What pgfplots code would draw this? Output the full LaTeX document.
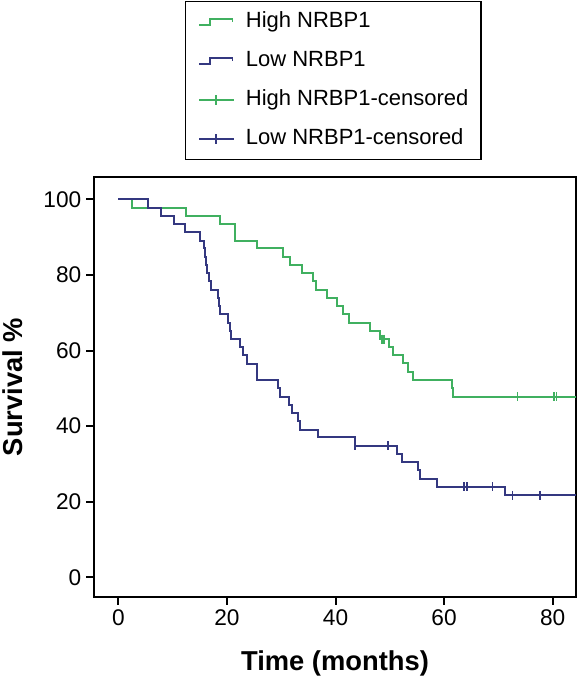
\documentclass[border=0pt]{standalone}
\usepackage{pgfplots}
\pgfplotsset{compat=1.18}
\usepackage{fontspec}
\setmainfont{Liberation Sans}
\definecolor{gcol}{RGB}{64,176,96}
\definecolor{bcol}{RGB}{52,56,128}
\begin{document}
\begin{tikzpicture}
\path[use as bounding box] (0,0) rectangle (435pt,508.5pt);
\begin{axis}[
 at={(70.5pt,60.75pt)}, anchor=south west,
 scale only axis, width=361.5pt, height=315pt,
 xmin=-4.5, xmax=84.3, ymin=-5.2, ymax=105.9,
 xtick={0,20,40,60,80}, ytick={0,20,40,60,80,100},
 tick pos=left, tick align=outside,
 major tick length=6pt,
 tick style={black, line width=1.5pt},
 axis line style={line width=2pt},
 ticklabel style={font=\fontsize{17}{20.4}\selectfont},
 /pgf/number format/assume math mode=true,
 xlabel={Time (months)}, ylabel={Survival \%},
 label style={font=\fontsize{20.5}{24}\selectfont\bfseries},
 xlabel style={at={(axis description cs:0.5,-0.157)}, anchor=center},
 ylabel style={at={(axis description cs:-0.168,0.5)}, anchor=center},
 legend style={at={(axis description cs:0.1888,1.419)}, anchor=north west,
   draw=black, line width=0.9pt, inner xsep=9.5pt, inner ysep=7.5pt,
   row sep=13.75pt, font=\fontsize{16.5}{19.8}\selectfont,
   nodes={inner sep=0pt, text height=12pt, text depth=3.5pt},
   /tikz/every odd column/.append style={column sep=8.5pt}},
 legend cell align=left,
]
\addplot[const plot, gcol, line width=1.5pt,
  legend image code/.code={\draw[gcol, line width=1.2pt] (0pt,-2.1pt) -- (8pt,-2.1pt) -- (8pt,2.1pt) -- (25pt,2.1pt) -- (25pt,-0.4pt);}]
coordinates {(0,100) (2.5,97.8) (12.5,95.7) (18.7,93.5) (21.4,89.1) (25.6,87.0)
 (30.4,84.8) (31.6,82.6) (33.8,80.4) (35.8,78.3) (36.4,76.1) (38.4,73.9)
 (40.2,71.7) (41.4,69.6) (42.5,67.4) (46.35,65.2) (48.2,63.0) (49.9,60.9)
 (50.5,58.8) (52.4,56.6) (53.4,54.4) (54.3,52.2) (61.4,50.0) (61.7,47.8) (84.3,47.8)};
\addlegendentry{High NRBP1}
\addplot[const plot, bcol, line width=1.5pt,
  legend image code/.code={\draw[bcol, line width=1.2pt] (0pt,-2.1pt) -- (8pt,-2.1pt) -- (8pt,2.1pt) -- (25pt,2.1pt) -- (25pt,-0.4pt);}]
coordinates {(0,100) (5.5,97.8) (7.8,95.7) (10.3,93.5) (12.3,91.3) (15.05,89.1)
 (15.7,87.0) (15.9,84.8) (16.2,82.6) (16.4,80.4) (16.7,78.3) (17.0,76.1)
 (18.3,73.9) (18.5,71.7) (18.7,69.6) (20.2,67.4) (20.6,65.2) (20.8,63.0)
 (22.4,60.9) (22.9,58.7) (23.6,56.5) (25.5,52.2) (29.4,50.0) (29.8,47.8)
 (31.4,45.7) (31.9,43.5) (33.0,41.3) (33.5,39.1) (36.7,37.0) (43.5,34.8)
 (51.4,32.6) (52.3,30.5) (55.25,28.3) (55.5,26.1) (58.6,24.0) (71.2,21.7) (84.3,21.7)};
\addlegendentry{Low NRBP1}
\addplot[only marks, gcol, mark=|, mark size=3.4pt, mark options={line width=1.3pt},
  legend image code/.code={\draw[gcol, line width=1.2pt] (0pt,0pt) -- (26pt,0pt); \draw[gcol, line width=1.2pt] (12.5pt,-3.75pt) -- (12.5pt,3.75pt);}]
coordinates {(48.5,63.0) (48.9,63.0) (73.5,47.8) (80.2,47.8) (80.7,47.8)};
\addlegendentry{High NRBP1-censored}
\addplot[only marks, bcol, mark=|, mark size=3.4pt, mark options={line width=1.3pt},
  legend image code/.code={\draw[bcol, line width=1.2pt] (0pt,0pt) -- (26pt,0pt); \draw[bcol, line width=1.2pt] (12.5pt,-3.75pt) -- (12.5pt,3.75pt);}]
coordinates {(43.6,34.8) (49.7,34.8) (63.7,24.0) (64.2,24.0) (68.9,24.0) (72.6,21.7) (77.7,21.7)};
\addlegendentry{Low NRBP1-censored}
\end{axis}
\end{tikzpicture}
\end{document}
